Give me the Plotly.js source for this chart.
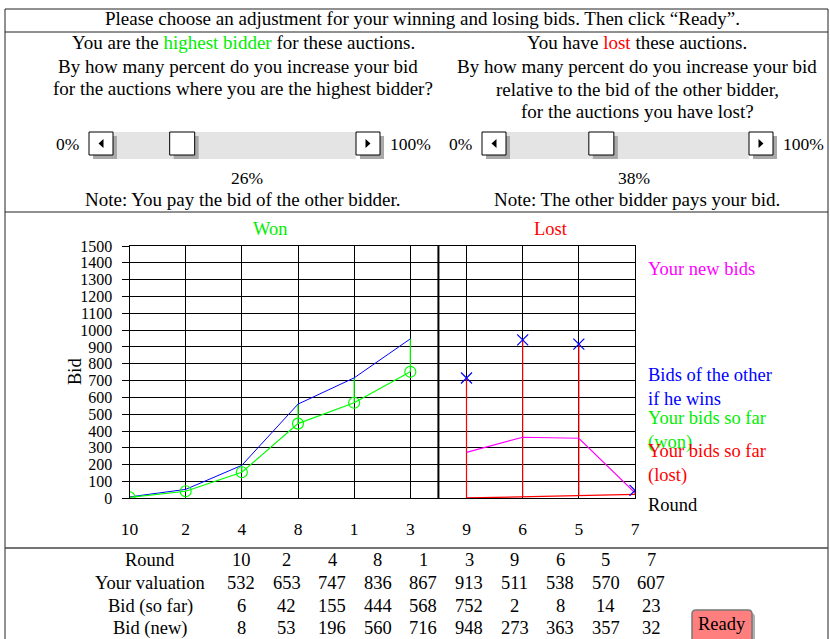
<!DOCTYPE html>
<html><head><meta charset="utf-8">
<script src="https://cdn.plot.ly/plotly-3.0.1.min.js"></script>
<style>html,body{margin:0;padding:0;background:#fff;overflow:hidden}</style>
</head><body><div id="chart" style="width:830px;height:639px"></div>
<script>
// ---- data ----
const rounds = ['10','2','4','8','1','3','9','6','5','7'];
const valuation = [532,653,747,836,867,913,511,538,570,607];
const bidSoFar = [6,42,155,444,568,752,2,8,14,23];
const bidNew = [8,53,196,560,716,948,273,363,357,32];
const otherBidLost = [715,942,917,47];
const wonCount = 6;
const adjustWon = 26;
const adjustLost = 38;
const yTickVals = [0,100,200,300,400,500,600,700,800,900,1000,1100,1200,1300,1400,1500];
const rowLabels = ['Round','Your valuation','Bid (so far)','Bid (new)'];

// ---- helpers ----
const W=830,H=639;
const FONT='"Liberation Serif", "Times New Roman", serif';
const FS=19, FL=18.5, FT=17.5, FK=16, FTB=18.5;
const px=v=>v/W, py=v=>1-v/H;
const shapes=[], annotations=[];
function text(t,x,y,size,color,opts){
  annotations.push(Object.assign({text:t,x:px(x),y:py(y),xref:'paper',yref:'paper',showarrow:false,
    xanchor:'center',yanchor:'middle',borderpad:0,font:{family:FONT,size:size||FS,color:color||'#000'}},opts||{}));
}
function rect(x0,y0,x1,y1,fill,line){
  shapes.push({type:'rect',xref:'paper',yref:'paper',x0:px(x0),x1:px(x1),y0:py(y1),y1:py(y0),
    fillcolor:fill||'rgba(0,0,0,0)',line:line||{width:0},layer:'above'});
}
function seg(x0,y0,x1,y1,color,w){
  shapes.push({type:'line',xref:'paper',yref:'paper',x0:px(x0),x1:px(x1),y0:py(y0),y1:py(y1),
    line:{color:color||'#000',width:w||1},layer:'above'});
}
function tri(cx,cy,dir){
  const a=2.5,b=4.5;
  const pts = dir<0 ? [[cx-a,cy],[cx+a,cy-b],[cx+a,cy+b]] : [[cx+a,cy],[cx-a,cy-b],[cx-a,cy+b]];
  const p='M'+pts.map(q=>px(q[0])+','+py(q[1])).join(' L')+' Z';
  shapes.push({type:'path',xref:'paper',yref:'paper',path:p,fillcolor:'#000',line:{width:0},layer:'above'});
}
function slider(left,pct){
  const bw=24,bh=23,top=132,sh=4,trackL=left+bw,trackR=trackL+243,thumbW=25;
  rect(trackL,top,trackR,top+bh+sh,'#e4e4e4');
  rect(left+sh,top+sh,left+bw+sh,top+bh+sh,'#a9a9a9');
  rect(left,top,left+bw,top+bh,'#fff',{color:'#000',width:1});
  tri(left+bw/2,top+bh/2,-1);
  const tl=trackL+pct/100*(trackR-trackL-thumbW);
  rect(tl+sh,top+sh,tl+thumbW+sh,top+bh+sh,'#a9a9a9');
  rect(tl,top,tl+thumbW,top+bh,'#fff',{color:'#000',width:1});
  rect(trackR+sh,top+sh,trackR+bw+sh,top+bh+sh,'#a9a9a9');
  rect(trackR,top,trackR+bw,top+bh,'#fff',{color:'#000',width:1});
  tri(trackR+bw/2,top+bh/2,1);
  text('0%',left-22,top+12,FT);
  text('100%',trackR+bw+30,top+12,FT);
}

// ---- frame ----
seg(5,9,828,9,'#222',1);
seg(5,9,5,639,'#222',1);
seg(828,9,828,639,'#222',1);
seg(5,32,828,32,'#222',1);
seg(5,212,828,212,'#222',1);
seg(5,548,828,548,'#444',1.5);

// ---- top texts ----
text('Please choose an adjustment for your winning and losing bids. Then click “Ready”.',422,19);
text('You are the <span style="color:#00ee00">highest bidder</span> for these auctions.',243,42);
text('By how many percent do you increase your bid',238,66);
text('for the auctions where you are the highest bidder?',243,88);
text('You have <span style="color:#ff0000">lost</span> these auctions.',637,42);
text('By how many percent do you increase your bid',637,66);
text('relative to the bid of the other bidder,',637,89);
text('for the auctions you have lost?',637,112);
slider(89,adjustWon);
slider(482,adjustLost);
text(adjustWon+'%',247,178,FT);
text(adjustLost+'%',634,178,FT);
text('Note: You pay the bid of the other bidder.',243,199);
text('Note: The other bidder pays your bid.',637,199);

// ---- chart labels ----
text('Won',270,229,FL,'#00ee00');
text('Lost',551,229,FL,'#ff0000');
text('Bid',75,372,FL,'#000',{textangle:-90});
text('Your new bids',647,269,FL,'#ff00ff',{xanchor:'left',align:'left'});
text('Bids of the other<br>if he wins',647,387,FL,'#0000ff',{xanchor:'left',align:'left'});
text('Your bids so far<br>(won)',647,430,FL,'#00ee00',{xanchor:'left',align:'left'});
text('Your bids so far<br>(lost)',647,463,FL,'#ff0000',{xanchor:'left',align:'left'});
text('Round',647,505,FL,'#000',{xanchor:'left',align:'left'});

// ---- table ----
const rowsY=[560,583,606,628];
const tableRows=[rounds,valuation,bidSoFar,bidNew];
rowLabels.forEach((l,r)=>{
  text(l,150,rowsY[r],FTB);
  tableRows[r].forEach((v,i)=>text(String(v),241+i*45.6,rowsY[r],FTB));
});

// ---- Ready button ----
(function(){
  const x0=692,y0=610,x1=752,y1=642,r=4,s=3;
  function rr(a,b,c,d,fill,line){
    const p=`M${px(a+r)},${py(b)} L${px(c-r)},${py(b)} Q${px(c)},${py(b)} ${px(c)},${py(b+r)} L${px(c)},${py(d-r)} Q${px(c)},${py(d)} ${px(c-r)},${py(d)} L${px(a+r)},${py(d)} Q${px(a)},${py(d)} ${px(a)},${py(d-r)} L${px(a)},${py(b+r)} Q${px(a)},${py(b)} ${px(a+r)},${py(b)} Z`;
    shapes.push({type:'path',xref:'paper',yref:'paper',path:p,fillcolor:fill,line:line,layer:'above'});
  }
  rr(x0+s,y0+s,x1+s,y1+s,'#b0b0b0',{width:0});
  rr(x0,y0,x1,y1,'#ff7f7f',{color:'#777',width:1.5});
  text('Ready',722,624,FTB);
})();

// ---- traces ----
const idx = rounds.map((_,i)=>i);
const wonIdx = idx.slice(0,wonCount), lostIdx = idx.slice(wonCount);
const traces=[];
const gx=[],gy=[];
wonIdx.forEach(i=>{gx.push(i,i,null);gy.push(bidSoFar[i],bidNew[i],null);});
traces.push({x:gx,y:gy,mode:'lines',line:{color:'#00ff00',width:1.2},hoverinfo:'skip'});
traces.push({x:wonIdx,y:wonIdx.map(i=>bidNew[i]),mode:'lines',line:{color:'#0000ff',width:1}});
traces.push({x:wonIdx,y:wonIdx.map(i=>bidSoFar[i]),mode:'lines+markers',line:{color:'#00ff00',width:1.2},
  marker:{symbol:'circle-open',size:11,color:'#00ff00',line:{width:1.2}}});
const rx=[],ry=[];
lostIdx.forEach((i,k)=>{rx.push(i,i,null);ry.push(bidSoFar[i],otherBidLost[k],null);});
traces.push({x:rx,y:ry,mode:'lines',line:{color:'#ff0000',width:1.2}});
traces.push({x:lostIdx,y:lostIdx.map(i=>bidSoFar[i]),mode:'lines',line:{color:'#ff0000',width:1.2}});
traces.push({x:lostIdx,y:lostIdx.map(i=>bidNew[i]),mode:'lines',line:{color:'#ff00ff',width:1.2}});
traces.push({x:lostIdx,y:otherBidLost,mode:'markers',marker:{symbol:'x-thin-open',size:11,color:'#0000ff',line:{width:1.2,color:'#0000ff'}}});

shapes.push({type:'line',xref:'x',yref:'y',x0:wonCount-0.5,x1:wonCount-0.5,y0:0,y1:1500,line:{color:'#000',width:2},layer:'above'});

const layout={
  width:W,height:H,margin:{l:0,r:0,t:0,b:0},paper_bgcolor:'#fff',plot_bgcolor:'#fff',
  showlegend:false,font:{family:FONT,size:FK,color:'#000'},
  xaxis:{domain:[px(129.5),px(635)],range:[0,rounds.length-1],tickvals:idx,ticktext:rounds,
    showgrid:true,gridcolor:'#000',gridwidth:1,zeroline:false,showline:true,mirror:true,linecolor:'#000',linewidth:1,
    ticks:'outside',ticklen:15,tickcolor:'rgba(0,0,0,0)',tickfont:{family:FONT,size:FT,color:'#000'},fixedrange:true},
  yaxis:{domain:[py(498.3),py(246)],range:[0,1500],tickvals:yTickVals,
    showgrid:true,gridcolor:'#000',gridwidth:1,zeroline:true,zerolinecolor:'#000',showline:true,mirror:true,linecolor:'#000',linewidth:1,
    ticks:'outside',ticklen:7,tickcolor:'#000',ticklabelstandoff:6,tickfont:{family:FONT,size:FK,color:'#000'},fixedrange:true},
  shapes:shapes,annotations:annotations
};
Plotly.newPlot('chart',traces,layout,{displayModeBar:false,staticPlot:true});
</script></body></html>
